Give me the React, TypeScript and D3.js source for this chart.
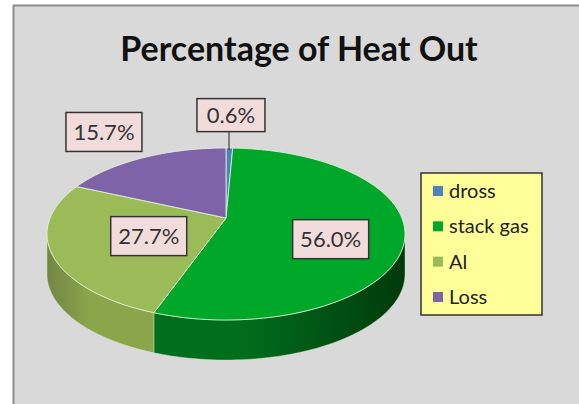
import React from "react";
import * as d3 from "d3";

const categories = ["dross", "stack gas", "Al", "Loss"];
const values = [0.6, 56.0, 27.7, 15.7];
const labels = ["0.6%", "56.0%", "27.7%", "15.7%"];
const topColors = ["#4f81bd", "#00a82a", "#9bbb59", "#7f63a8"];
const sideDark = ["#2c4d7a", "#003a0c", "#62792c", "#54407a"];
const sideLight = ["#4f81bd", "#006e1c", "#8ba64a", "#7f63a8"];
const labelFactor = [1.47, 0.6, 0.45, 1.44];

const W = 579;
const H = 404;
const cx = 226;
const cy = 234;
const rx = 179;
const ry = 86;
const apex: [number, number] = [226, 218];
const depth = 40;

function pt(a: number, dy = 0): [number, number] {
  return [cx + rx * Math.sin(a), cy - ry * Math.cos(a) + dy];
}

function arcPts(a0: number, a1: number, dy = 0): [number, number][] {
  const n = Math.max(2, Math.ceil(((a1 - a0) / (2 * Math.PI)) * 240));
  return d3.range(n + 1).map((i) => pt(a0 + ((a1 - a0) * i) / n, dy));
}

export default function App() {
  const pie = d3.pie<number>().sort(null).startAngle(0).endAngle(2 * Math.PI);
  const arcs = pie(values);
  const line = d3.line();

  const sides = arcs.map((a, i) => {
    const s = Math.max(a.startAngle, Math.PI / 2);
    const e = Math.min(a.endAngle, (3 * Math.PI) / 2);
    if (e <= s) return null;
    const top = arcPts(s, e);
    const bot = arcPts(s, e, depth).reverse();
    return { i, d: line([...top, ...bot])! + "Z" };
  });

  const tops = arcs.map((a, i) => {
    const pts = [apex, ...arcPts(a.startAngle, a.endAngle)];
    return line(pts)! + "Z";
  });

  const lbls = arcs.map((a, i) => {
    const mid = (a.startAngle + a.endAngle) / 2;
    const p = pt(mid);
    const f = labelFactor[i];
    return [apex[0] + f * (p[0] - apex[0]), apex[1] + f * (p[1] - apex[1])];
  });

  const legendX = 421;
  const legendY = 173;
  const legendRows = d3.scalePoint<string>().domain(categories).range([191, 297]);

  return (
    <svg
      width={W}
      height={H}
      style={{ position: "absolute", left: 0, top: 0 }}
      xmlns="http://www.w3.org/2000/svg"
    >
      <defs>
        {categories.map((c, i) => (
          <linearGradient key={c} id={`side${i}`} gradientUnits="userSpaceOnUse" x1={cx - rx} x2={cx + rx} y1={0} y2={0}>
            <stop offset="0" stopColor={sideDark[i]} stopOpacity={0.85} />
            <stop offset="0.12" stopColor={sideLight[i]} />
            <stop offset="0.55" stopColor={sideLight[i]} />
            <stop offset="1" stopColor={sideDark[i]} />
          </linearGradient>
        ))}
      </defs>
      <rect x={0} y={0} width={W} height={H} fill="#ffffff" />
      <rect x={13.5} y={5.5} width={W} height={H} fill="#d9d9d9" stroke="#8c8c8c" strokeWidth={2} />
      <text
        x={299}
        y={61}
        textAnchor="middle"
        fontFamily="Lato, 'Open Sans', sans-serif"
        fontWeight="bold"
        fontSize={34}
        fill="#111"
      >
        Percentage of Heat Out
      </text>

      {sides.map((s) =>
        s ? (
          <path key={`s${s.i}`} d={s.d} fill={`url(#side${s.i})`} stroke="#cfe8c0" strokeOpacity={0.5} strokeWidth={0.8} />
        ) : null
      )}
      {tops.map((d, i) => (
        <path key={`t${i}`} d={d} fill={topColors[i]} stroke="#e8f5dc" strokeOpacity={0.8} strokeWidth={1} />
      ))}

      {/* leader line for dross */}
      <line x1={229} y1={131} x2={229} y2={150} stroke="#222" strokeWidth={1} />

      {lbls.map((p, i) => {
        const w = labels[i].length > 4 ? 76 : 68;
        const h = labels[i].length > 4 ? 39 : 33;
        return (
          <g key={`l${i}`} transform={`translate(${p[0]},${p[1]})`}>
            <rect x={-w / 2} y={-h / 2} width={w} height={h} fill="#f2dcdb" stroke="#333" strokeWidth={1.5} />
            <text
              x={0}
              y={8}
              textAnchor="middle"
              fontFamily="Lato, 'Open Sans', sans-serif"
              fontSize={22}
              fill="#333"
            >
              {labels[i]}
            </text>
          </g>
        );
      })}

      <rect x={legendX} y={legendY} width={121} height={142} fill="#ffff99" stroke="#333" strokeWidth={1.5} />
      {categories.map((c, i) => (
        <g key={c}>
          <rect x={433} y={legendRows(c)! - 5} width={10} height={10} fill={topColors[i]} />
          <text
            x={449}
            y={legendRows(c)! + 7}
            fontFamily="Lato, 'Open Sans', sans-serif"
            fontSize={20}
            fill="#222"
          >
            {c}
          </text>
        </g>
      ))}
    </svg>
  );
}
